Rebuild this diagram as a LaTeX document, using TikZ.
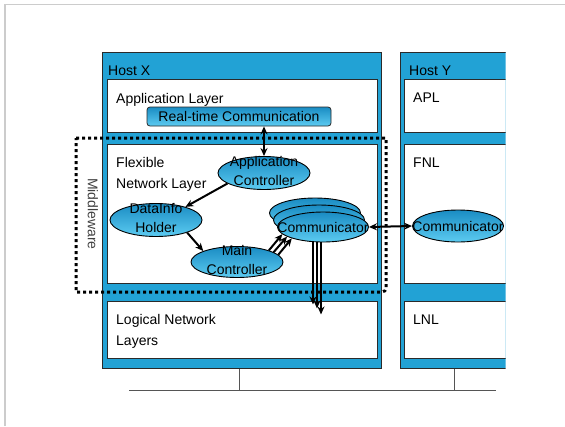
\documentclass[tikz,border=0pt]{standalone}
\usepackage{fontspec}
\setmainfont{Liberation Sans}
\usetikzlibrary{arrows.meta, positioning, calc, shapes.geometric}
\definecolor{hostblue}{HTML}{22A2D5}
\definecolor{elltop}{HTML}{1A8CC3}
\definecolor{ellbot}{HTML}{5CCBF1}
\definecolor{edge}{HTML}{2A2A2A}
\definecolor{framegray}{HTML}{CCCCCC}

\begin{document}
\begin{tikzpicture}[x=1pt, y=-1pt,
    every node/.style={font=\fontsize{14}{21}\selectfont},
    host/.style={rectangle, draw=edge, fill=hostblue, line width=0.8pt,
                 anchor=north west, inner sep=0pt},
    layer/.style={rectangle, draw=edge, fill=white, line width=0.8pt,
                  anchor=north west, inner sep=0pt},
    lab/.style={anchor=base west, inner sep=0pt},
    labm/.style={anchor=north west, inner sep=0pt, align=left},
    ell/.style={ellipse, draw=black, line width=0.9pt, top color=elltop,
                bottom color=ellbot, minimum width=92, minimum height=33,
                inner sep=0pt},
    comm/.style={ell, minimum width=91, minimum height=30},
    etxt/.style={inner sep=0pt, align=center, font=\fontsize{14}{19}\selectfont},
    rtbox/.style={rectangle, rounded corners=3pt, draw=edge, line width=0.8pt,
                  top color=elltop, bottom color=ellbot, minimum width=184,
                  minimum height=19, inner sep=0pt},
    arr/.style={-{Stealth[length=8pt, width=7pt]}, line width=2pt},
    dbl/.style={{Stealth[length=8pt, width=7pt]}-{Stealth[length=8pt, width=7pt]},
                line width=2pt},
    mw/.style={line width=3pt, dash pattern=on 3pt off 3pt},
    bus/.style={draw=edge!80, line width=1pt},
]
\useasboundingbox (0,0) rectangle (565,426);
\draw[framegray, line width=1.5pt] (5,426) -- (5,4.5) -- (565,4.5);

% ================================================================ host X
\node[host, minimum width=279, minimum height=316] (hx) at (102,52) {};
\node[layer, minimum width=270, minimum height=53] (alx) at (106.5,79) {};
\node[layer, minimum width=270, minimum height=139] (fnlx) at (106.5,144) {};
\node[layer, minimum width=270, minimum height=57] (lnlx) at (106.5,300.5) {};

\node[lab] (hxl) at (108,75) {Host X};
\node[lab] (alxl) at (116,103) {Application Layer};
\node[labm] (fnlxl) at (116,156.8) {Flexible\\Network Layer};
\node[labm] (lnlxl) at (116,313.8) {Logical Network\\Layers};
\node[rtbox] (rt) at (239,116.5) {Real-time Communication};

% ================================================================ host Y
\begin{scope}
\clip (395,45) rectangle (505.5,375);
\node[host, minimum width=130, minimum height=316] (hy) at (399.5,52) {};
\node[layer, minimum width=130, minimum height=53] (aply) at (404,79) {};
\node[layer, minimum width=130, minimum height=139] (fnly) at (404,144) {};
\node[layer, minimum width=130, minimum height=57] (lnly) at (404,300.5) {};
\node[comm, minimum height=32] (cy) at (458,226) {};
\node[etxt] (cyl) at (cy) {Communicator};
\end{scope}
\node[lab] (hyl) at (409,75) {Host Y};
\node[lab] (aplyl) at (413,102) {APL};
\node[lab] (fnlyl) at (413,167) {FNL};
\node[lab] (lnlyl) at (413,324) {LNL};

% ================================================================ middleware
\draw[mw] (76,138) -- (386,138) [rounded corners=4pt] -- (386,292)
    [sharp corners] -- (76,292) -- cycle;
\node[rotate=-90, text=black!75, inner sep=0pt] (mwl) at (93,214) {Middleware};

% ================================================================ components
\node[ell] (ac) at (264,173) {};
\node[etxt] (acl) at ([yshift=2pt]ac.center) {Application\\Controller};
\node[ell] (dh) at (156,220) {};
\node[etxt] (dhl) at ([yshift=2pt]dh.center) {DataInfo\\Holder};
\node[ell, minimum height=31] (mc) at (237,262) {};
\node[etxt] (mcl) at ([yshift=2pt]mc.center) {Main\\Controller};

\foreach \i/\d in {3/8, 2/4, 1/0}{
    \node[comm] (cm\i) at (323-\d, 227-1.75*\d) {};
}
\node[etxt] (cml) at (cm1) {Communicator};

% ================================================================ connectors
\draw[dbl] (ac.north) -- (ac.north |- rt.south);
\draw[arr] (ac.196) -- (dh.24);
\draw[arr] (dh.-22) -- (mc.162);
\foreach \a/\b in {20/190, 15/195, 10/200}{
    \draw[arr] (mc.\a) -- (cm1.\b);
}
\foreach \dx/\len in {-10/62, -6/66, -2/72}{
    \draw[arr] ([xshift=\dx pt]cm1.south) -- ++(0,\len);
}
\draw[dbl] (cm1.east) -- (cy.west);

% ================================================================ bus
\coordinate (busw) at (129,390);
\coordinate (buse) at (496,390);
\coordinate (tapx) at (239,390);
\coordinate (tapy) at (454,390);
\draw[bus] (busw) -- (buse);
\draw[bus] (hx.south -| tapx) -- (tapx);
\draw[bus] (hy.south -| tapy) -- (tapy);

\end{tikzpicture}
\end{document}
